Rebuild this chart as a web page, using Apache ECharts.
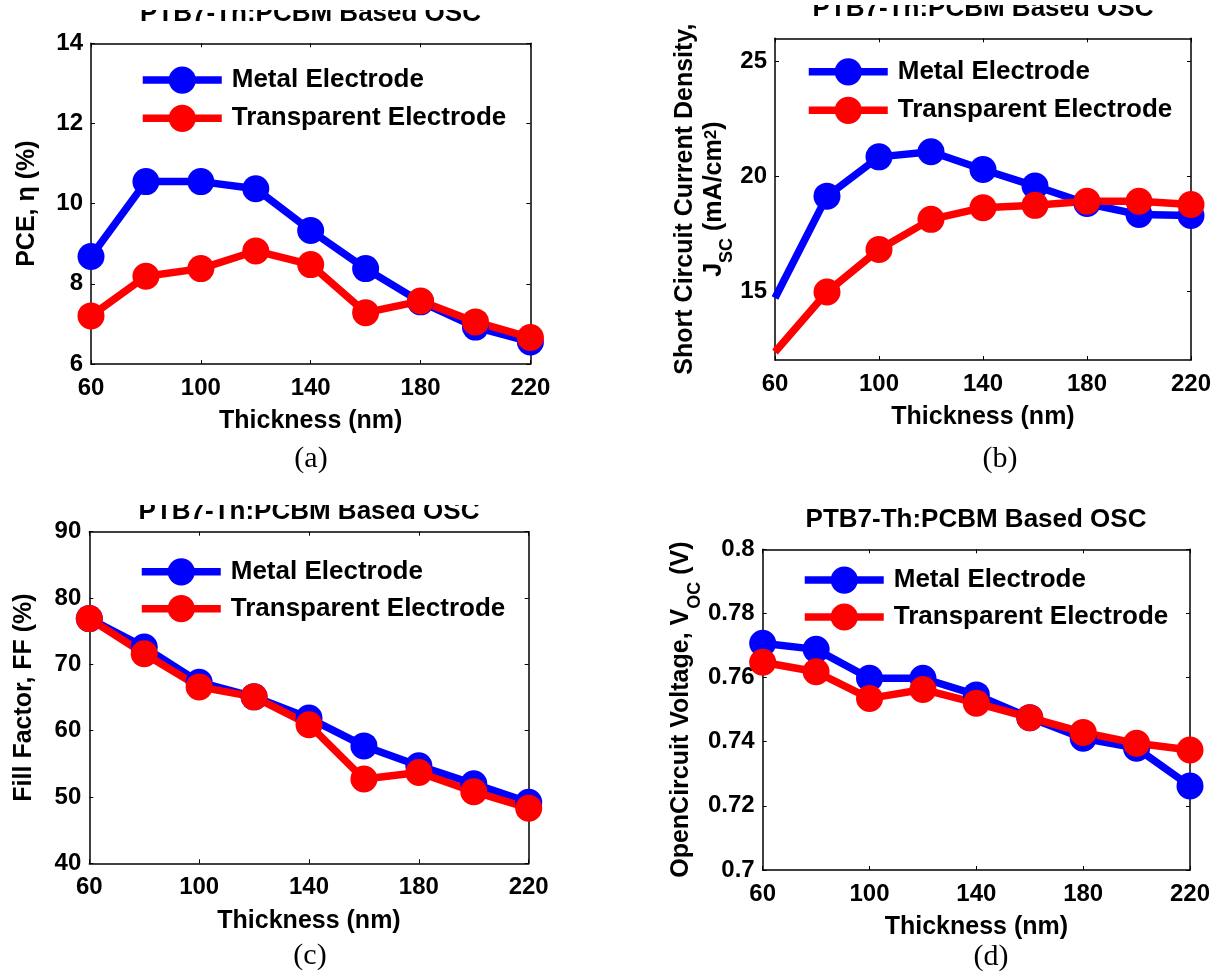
<!DOCTYPE html>
<html>
<head>
<meta charset="utf-8">
<script src="https://cdn.jsdelivr.net/npm/echarts@6/dist/echarts.min.js"></script>
<style>
  html, body { margin: 0; padding: 0; background: #ffffff; }
  #chart { width: 1219px; height: 976px; }
</style>
</head>
<body>
<div id="chart"></div>
<script>
// Active-layer thickness sweep (nm)
const thickness = [60, 80, 100, 120, 140, 160, 180, 200, 220];
const thicknessTicks = [60, 100, 140, 180, 220];

// (a) power conversion efficiency, %
const pceMetal       = [8.68, 10.55, 10.55, 10.37, 9.33, 8.38, 7.55, 6.92, 6.55];
const pceTransparent = [7.20, 8.19, 8.38, 8.82, 8.48, 7.28, 7.57, 7.05, 6.66];
const pceTicks = [6, 8, 10, 12, 14];

// (b) short circuit current density, mA/cm2
const jscMetal       = [14.70, 19.13, 20.84, 21.06, 20.29, 19.57, 18.81, 18.33, 18.29];
const jscTransparent = [12.35, 14.96, 16.81, 18.12, 18.63, 18.73, 18.91, 18.91, 18.77];
const jscTicks = [15, 20, 25];

// (c) fill factor, %
const ffMetal       = [76.9, 72.6, 67.3, 65.1, 61.9, 57.7, 54.7, 52.0, 49.2];
const ffTransparent = [76.9, 71.6, 66.6, 65.1, 60.9, 52.7, 53.7, 50.8, 48.3];
const ffTicks = [40, 50, 60, 70, 80, 90];

// (d) open circuit voltage, V
const vocMetal       = [0.7707, 0.7688, 0.7598, 0.7598, 0.7546, 0.7475, 0.7411, 0.7380, 0.7262];
const vocTransparent = [0.7648, 0.7618, 0.7535, 0.7563, 0.7520, 0.7475, 0.7429, 0.7395, 0.7374];
const vocTicks = [0.7, 0.72, 0.74, 0.76, 0.78, 0.8];

const seriesNames = ['Metal Electrode', 'Transparent Electrode'];
const plotTitle = 'PTB7-Th:PCBM Based OSC';
const xName = 'Thickness (nm)';

const FONT = '"Liberation Sans", Arial, Helvetica, sans-serif';
const SERIF = '"Liberation Serif", "Times New Roman", serif';
const BLUE = '#0000ff';
const RED = '#ff0000';

const richName = {
  m: { fontFamily: FONT, fontWeight: 'bold', fontSize: 25, lineHeight: 29, verticalAlign: 'top', color: '#000' },
  s: { fontFamily: FONT, fontWeight: 'bold', fontSize: 18, lineHeight: 18, padding: [17, 0, 0, 0], verticalAlign: 'top', color: '#000' },
  p: { fontFamily: FONT, fontWeight: 'bold', fontSize: 17, lineHeight: 17, padding: [1, 0, 0, 0], verticalAlign: 'top', color: '#000' }
};

const panels = [
  {
    grid: { left: 91, top: 43.3, width: 439.4, height: 320.7 },
    yRange: [6, 14], yTicks: pceTicks,
    metal: pceMetal, transparent: pceTransparent,
    yName: 'PCE, η (%)', yNameGap: 51,
    legend: { left: 139, top: 66.5, itemGap: 11 },
    title: { x: 310.5, y: 0.9 },
    tag: { text: '(a)', x: 311, y: 444 },
    hideFirstMarker: false
  },
  {
    grid: { left: 775, top: 38.3, width: 416, height: 321.7 },
    yRange: [12, 26], yTicks: jscTicks,
    metal: jscMetal, transparent: jscTransparent,
    yName: '{m|Short Circuit Current Density,}\n{m|J}{s|SC}{m| (mA/cm}{p|2}{m|)}', yNameGap: 37.5,
    legend: { left: 805, top: 58.2, itemGap: 11.3 },
    title: { x: 983, y: -4.1 },
    tag: { text: '(b)', x: 1000, y: 444 },
    hideFirstMarker: true
  },
  {
    grid: { left: 89.3, top: 531.7, width: 439.4, height: 331.6 },
    yRange: [40, 90], yTicks: ffTicks,
    metal: ffMetal, transparent: ffTransparent,
    yName: 'Fill Factor, FF (%)', yNameGap: 53,
    legend: { left: 138, top: 558.2, itemGap: 9.7 },
    title: { x: 309, y: 499.3 },
    tag: { text: '(c)', x: 310, y: 940.7 },
    hideFirstMarker: false
  },
  {
    grid: { left: 762.7, top: 549.3, width: 427.3, height: 320.7 },
    yRange: [0.7, 0.8], yTicks: vocTicks,
    metal: vocMetal, transparent: vocTransparent,
    yName: '{m|OpenCircuit Voltage, V}{s|OC}{m| (V)}', yNameGap: 58.4,
    legend: { left: 801, top: 566.5, itemGap: 9.7 },
    title: { x: 976, y: 506.6 },
    tag: { text: '(d)', x: 991, y: 942.4 },
    hideFirstMarker: false
  }
];

const axisLine = { show: true, lineStyle: { color: '#000', width: 1.5 } };
const tickStyle = (values) => ({ show: true, inside: true, length: 4, customValues: values, lineStyle: { color: '#000', width: 1 } });
const fmtNum = (v) => String(parseFloat(Number(v).toFixed(3)));

const grids = [], xAxes = [], yAxes = [], series = [], legends = [], titles = [];

panels.forEach((p, i) => {
  grids.push(Object.assign({ containLabel: false }, p.grid));

  // bottom axis with labels, top mirror axis
  xAxes.push({
    type: 'value', gridIndex: i, min: 60, max: 220, position: 'bottom',
    name: xName, nameLocation: 'middle', nameGap: 45,
    nameTextStyle: { fontFamily: FONT, fontWeight: 'bold', fontSize: 25, color: '#000' },
    axisLine: axisLine, axisTick: tickStyle(thicknessTicks),
    axisLabel: { customValues: thicknessTicks, margin: 12, fontFamily: FONT, fontWeight: 'bold', fontSize: 24, color: '#000', formatter: fmtNum },
    splitLine: { show: false }
  });
  xAxes.push({
    type: 'value', gridIndex: i, min: 60, max: 220, position: 'top',
    axisLine: axisLine, axisTick: tickStyle(thicknessTicks),
    axisLabel: { show: false }, splitLine: { show: false }
  });

  // left axis with labels, right mirror axis
  yAxes.push({
    type: 'value', gridIndex: i, min: p.yRange[0], max: p.yRange[1], position: 'left',
    name: p.yName, nameLocation: 'middle', nameGap: p.yNameGap, nameRotate: 90,
    nameTextStyle: { fontFamily: FONT, fontWeight: 'bold', fontSize: 25, color: '#000', align: 'center', rich: richName },
    axisLine: axisLine, axisTick: tickStyle(p.yTicks),
    axisLabel: { customValues: p.yTicks, margin: 8, fontFamily: FONT, fontWeight: 'bold', fontSize: 24, color: '#000', formatter: fmtNum },
    splitLine: { show: false }
  });
  yAxes.push({
    type: 'value', gridIndex: i, min: p.yRange[0], max: p.yRange[1], position: 'right',
    axisLine: axisLine, axisTick: tickStyle(p.yTicks),
    axisLabel: { show: false }, splitLine: { show: false }
  });

  const build = (vals) => thickness.map((t, k) => {
    const pt = [t, vals[k]];
    return (p.hideFirstMarker && k === 0) ? { value: pt, symbol: 'none' } : pt;
  });

  [[seriesNames[0], p.metal, BLUE], [seriesNames[1], p.transparent, RED]].forEach(([name, vals, color]) => {
    series.push({
      type: 'line', name: name, xAxisIndex: 2 * i, yAxisIndex: 2 * i,
      data: build(vals), clip: false,
      symbol: 'circle', symbolSize: 27, showAllSymbol: true,
      lineStyle: { color: color, width: 7.5 },
      itemStyle: { color: color, borderWidth: 0 },
      emphasis: { disabled: true }
    });
  });

  legends.push({
    orient: 'vertical', left: p.legend.left, top: p.legend.top, itemGap: p.legend.itemGap,
    itemWidth: 79, itemHeight: 34, padding: 0,
    data: seriesNames, selectedMode: false,
    lineStyle: { width: 7.5 },
    textStyle: { fontFamily: FONT, fontWeight: 'bold', fontSize: 26, color: '#000', padding: [0, 0, 0, 5] }
  });

  titles.push({
    text: plotTitle, left: p.title.x, top: p.title.y, textAlign: 'center', padding: 0,
    textStyle: { fontFamily: FONT, fontWeight: 'bold', fontSize: 26, color: '#000' }
  });
  titles.push({
    text: p.tag.text, left: p.tag.x, top: p.tag.y, textAlign: 'center', padding: 0,
    textStyle: { fontFamily: SERIF, fontWeight: 'normal', fontSize: 30, color: '#000' }
  });
});

const chart = echarts.init(document.getElementById('chart'), null, { renderer: 'canvas' });
chart.setOption({
  backgroundColor: '#ffffff',
  animation: false,
  title: titles,
  legend: legends,
  grid: grids,
  xAxis: xAxes,
  yAxis: yAxes,
  series: series,
  // the sub-figures are trimmed along their top edges
  graphic: [
    { type: 'rect', z: 100, silent: true, shape: { x: 0, y: 0, width: 606, height: 10 }, style: { fill: '#ffffff' } },
    { type: 'rect', z: 100, silent: true, shape: { x: 606, y: 0, width: 613, height: 5 }, style: { fill: '#ffffff' } },
    { type: 'rect', z: 100, silent: true, shape: { x: 0, y: 480, width: 606, height: 25 }, style: { fill: '#ffffff' } }
  ]
});
</script>
</body>
</html>
